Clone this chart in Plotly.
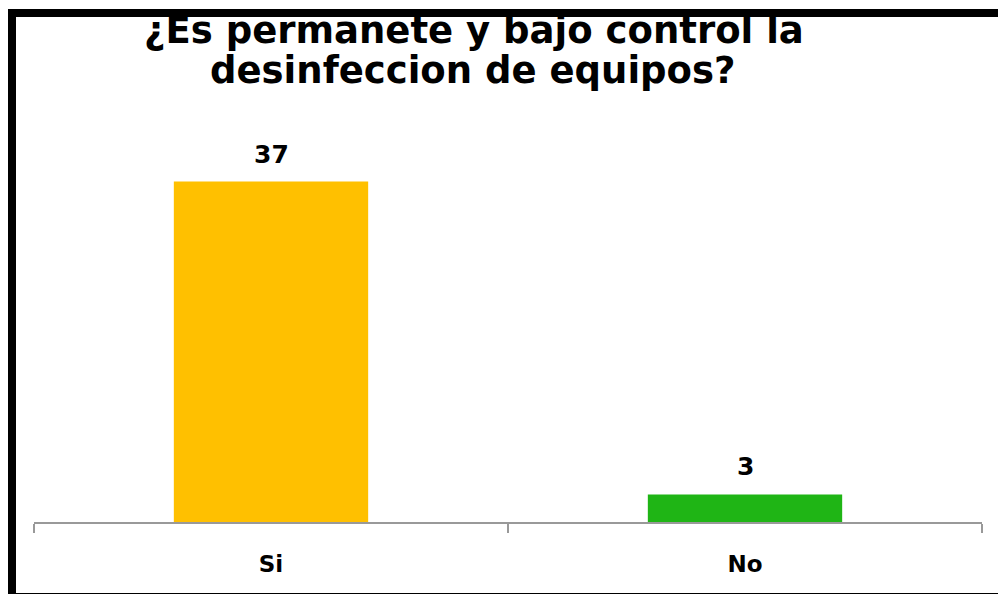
import plotly.graph_objects as go

categories = ["Si", "No"]
values = [37, 3]
bar_colors = ["#FFC000", "#1FB515"]
title_lines = ["¿Es permanete y bajo control la", "desinfeccion de equipos?"]

PLOT_T, PLOT_B, PLOT_L, PLOT_R = 154, 72, 34, 16
W, H = 998, 594
plot_h = H - PLOT_T - PLOT_B
plot_w = W - PLOT_L - PLOT_R

def px_x(px):
    return (px - PLOT_L) / plot_w

def px_y(py):
    return (H - PLOT_B - py) / plot_h

fig = go.Figure()
fig.add_trace(go.Bar(
    x=categories, y=values,
    marker=dict(color=bar_colors, line=dict(width=0)),
    width=0.41,
    hoverinfo="skip",
))

annotations = []
for c, v in zip(categories, values):
    annotations.append(dict(
        x=c, y=v, xref="x", yref="y", text=str(v), showarrow=False,
        yanchor="bottom", yshift=11,
        font=dict(family="DejaVu Sans", size=25, color="#000000", weight="bold"),
    ))

title_pos = [(474, 31), (472, 70)]
for line, (cx, cy) in zip(title_lines, title_pos):
    annotations.append(dict(
        x=px_x(cx), y=px_y(cy), xref="paper", yref="paper", text=line,
        showarrow=False, xanchor="center", yanchor="middle",
        font=dict(family="DejaVu Sans", size=37, color="#000000", weight="bold"),
    ))

fig.update_layout(
    width=W, height=H,
    margin=dict(l=PLOT_L, r=PLOT_R, t=PLOT_T, b=PLOT_B, pad=0),
    paper_bgcolor="#FFFFFF", plot_bgcolor="#FFFFFF",
    showlegend=False,
    annotations=annotations,
    shapes=[dict(
        type="rect", xref="paper", yref="paper",
        x0=px_x(12), x1=px_x(1004), y0=px_y(597), y1=px_y(13),
        line=dict(color="#000000", width=8), fillcolor="rgba(0,0,0,0)",
        layer="above",
    )],
    xaxis=dict(
        showline=True, linecolor="#999999", linewidth=2,
        ticks="outside", tickson="boundaries", ticklen=9, tickwidth=2, tickcolor="#999999",
        showgrid=False, zeroline=False,
        tickfont=dict(family="DejaVu Sans", size=23, color="#000000", weight="bold"),
        ticklabelstandoff=20,
    ),
    yaxis=dict(
        range=[0, 40], visible=False, showgrid=False, zeroline=False,
    ),
)

fig.write_html("out.html")
